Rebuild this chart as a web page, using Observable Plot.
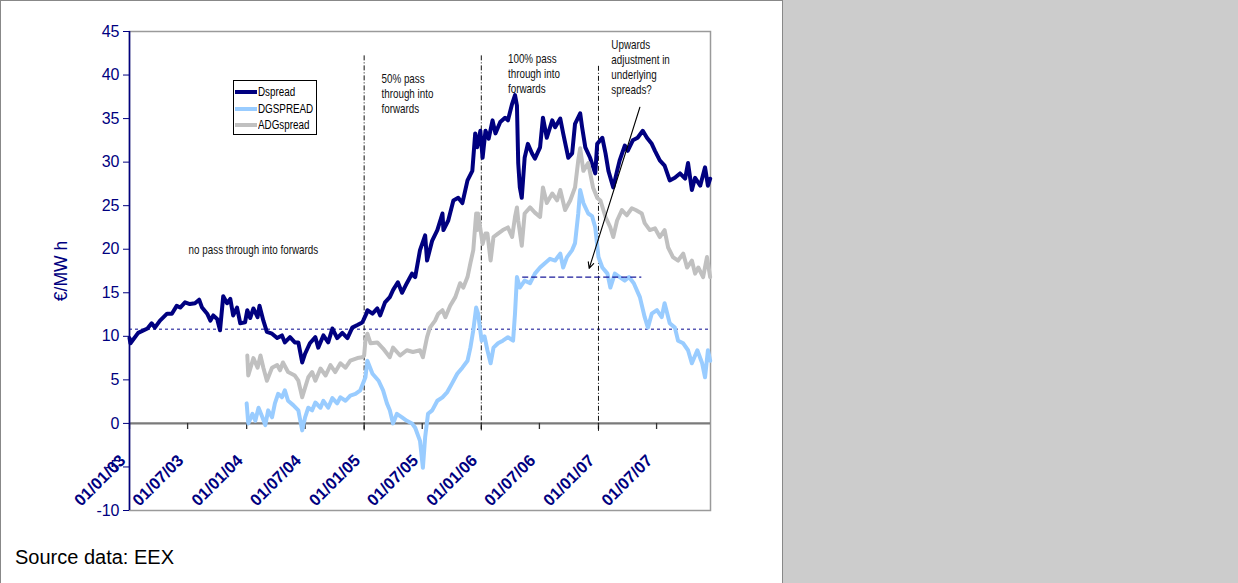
<!DOCTYPE html>
<html><head><meta charset="utf-8">
<script src="https://cdn.jsdelivr.net/npm/d3@7"></script>
<script src="https://cdn.jsdelivr.net/npm/@observablehq/plot@0.6"></script>
<style>
html,body{margin:0;padding:0;}
body{width:1238px;height:583px;background:#cccccc;position:relative;overflow:hidden;font-family:"Liberation Sans",Arial,sans-serif;}
#page{position:absolute;left:0;top:0;width:783px;height:590px;background:#fff;border-left:1px solid #888;border-top:1px solid #888;border-right:1px solid #888;box-sizing:border-box;}
#chart{position:absolute;left:0;top:0;}
#source{position:absolute;left:15px;top:546px;font-size:20px;color:#000;white-space:nowrap;}
#legend{position:absolute;left:233px;top:80px;width:84px;height:55px;border:1px solid #000;background:#fff;box-sizing:border-box;font-family:"Liberation Sans",Arial,sans-serif;font-size:12px;color:#000;}
#legend .row{position:absolute;left:1px;height:16px;line-height:16px;white-space:nowrap;}
#legend .sw{position:absolute;left:0;top:6px;width:22px;height:4px;}
#legend .lbl{position:absolute;left:23px;top:0;transform:scaleX(0.82);transform-origin:0 50%;}
</style></head>
<body>
<div id="page"></div>
<div id="chart"></div>
<div id="legend"></div>
<div id="source">Source data: EEX</div>
<script>
// ---- data ----
const seriesNames = ["Dspread", "DGSPREAD", "ADGspread"];
const seriesColors = ["#000080", "#99ccff", "#c0c0c0"];

const dspread = [
["2003-01-01",9.8],["2003-01-04",9.2],["2003-01-28",10.4],["2003-02-26",10.9],["2003-03-11",11.5],["2003-03-21",11.0],
["2003-04-06",11.8],["2003-04-28",12.6],["2003-05-13",12.6],["2003-05-28",13.5],["2003-06-08",13.3],["2003-06-23",13.9],
["2003-07-08",13.7],["2003-07-24",13.8],["2003-08-06",14.2],["2003-08-15",13.3],["2003-08-31",12.6],["2003-09-10",11.8],
["2003-09-19",12.4],["2003-10-01",12.0],["2003-10-10",10.7],["2003-10-20",14.6],["2003-11-01",13.8],["2003-11-11",14.3],
["2003-11-20",12.4],["2003-12-02",13.3],["2003-12-12",11.5],["2003-12-27",11.6],["2004-01-03",13.0],["2004-01-12",12.1],
["2004-01-22",13.2],["2004-02-04",12.2],["2004-02-10",13.5],["2004-02-22",11.8],["2004-03-04",10.5],["2004-03-20",10.3],
["2004-04-05",9.8],["2004-04-20",10.1],["2004-04-29",9.3],["2004-05-15",9.9],["2004-05-30",9.3],["2004-06-10",9.3],
["2004-06-22",7.0],["2004-07-01",8.0],["2004-07-16",9.2],["2004-08-02",9.9],["2004-08-11",8.7],["2004-08-27",10.1],
["2004-09-11",9.3],["2004-09-24",10.9],["2004-10-09",9.8],["2004-10-25",10.4],["2004-11-10",9.8],["2004-11-25",11.0],
["2004-12-11",11.3],["2004-12-26",11.6],["2004-12-29",11.8],["2005-01-08",12.6],["2005-01-11",13.0],["2005-01-27",12.6],
["2005-02-11",13.2],["2005-02-20",12.4],["2005-03-07",13.9],["2005-03-22",14.5],["2005-04-01",15.3],["2005-04-16",16.2],
["2005-04-29",15.0],["2005-05-14",16.1],["2005-05-30",17.2],["2005-06-09",16.8],["2005-06-24",19.9],["2005-07-10",21.6],
["2005-07-16",18.7],["2005-08-01",21.0],["2005-08-17",22.2],["2005-09-02",24.1],["2005-09-05",22.2],["2005-09-20",23.3],
["2005-10-06",25.6],["2005-10-21",25.9],["2005-11-03",25.3],["2005-11-19",27.9],["2005-12-04",29.0],["2005-12-13",33.3],
["2005-12-19",31.7],["2005-12-29",33.6],["2006-01-05",30.5],["2006-01-14",33.6],["2006-01-24",32.7],["2006-02-05",34.8],
["2006-02-14",33.3],["2006-03-01",34.6],["2006-03-16",35.1],["2006-03-25",34.8],["2006-04-07",36.7],["2006-04-16",37.7],
["2006-04-22",36.5],["2006-04-26",29.9],["2006-05-01",27.1],["2006-05-07",25.9],["2006-05-16",30.5],["2006-05-26",32.1],
["2006-06-08",31.0],["2006-06-17",30.4],["2006-07-03",31.7],["2006-07-12",35.1],["2006-07-24",32.8],["2006-08-10",34.8],
["2006-08-19",34.0],["2006-09-04",35.0],["2006-09-13",33.3],["2006-09-29",30.5],["2006-10-11",31.0],["2006-10-20",34.4],
["2006-11-05",35.6],["2006-11-11",34.0],["2006-11-21",31.7],["2006-12-06",30.5],["2006-12-22",28.7],["2006-12-28",32.1],
["2007-01-13",32.8],["2007-01-23",31.0],["2007-02-01",29.0],["2007-02-16",27.1],["2007-02-28",29.0],["2007-03-08",30.2],
["2007-03-24",31.9],["2007-04-02",31.3],["2007-04-18",32.5],["2007-05-03",32.8],["2007-05-19",33.6],["2007-06-01",32.8],
["2007-06-16",32.1],["2007-06-26",31.3],["2007-07-11",30.2],["2007-07-26",29.6],["2007-08-11",27.9],["2007-08-27",28.2],
["2007-09-12",28.7],["2007-09-28",28.1],["2007-10-07",29.9],["2007-10-19",26.8],["2007-10-29",28.2],["2007-11-14",27.3],
["2007-11-29",29.4],["2007-12-08",27.3],["2007-12-15",28.1]
];

const dgspread = [
["2004-01-01",2.3],["2004-01-06",0.0],["2004-01-19",1.1],["2004-01-28",0.3],["2004-02-07",1.8],["2004-02-19",0.7],
["2004-02-28",-0.2],["2004-03-08",1.5],["2004-03-20",0.7],["2004-03-29",2.3],["2004-04-08",3.4],["2004-04-20",3.0],
["2004-04-29",3.8],["2004-05-09",2.6],["2004-05-25",2.1],["2004-06-10",1.5],["2004-06-22",-0.8],["2004-07-01",0.7],
["2004-07-11",1.8],["2004-07-23",1.5],["2004-08-02",2.4],["2004-08-18",1.8],["2004-08-27",2.6],["2004-09-11",1.8],
["2004-09-24",2.9],["2004-10-09",2.3],["2004-10-19",3.0],["2004-11-04",2.6],["2004-11-19",3.2],["2004-12-05",3.4],
["2004-12-20",3.8],["2005-01-05",5.3],["2005-01-11",7.2],["2005-01-27",5.7],["2005-02-15",4.9],["2005-03-01",3.8],
["2005-03-13",2.3],["2005-03-22",1.5],["2005-04-01",0.0],["2005-04-13",1.1],["2005-04-29",0.7],["2005-05-14",0.3],
["2005-05-30",0.0],["2005-06-09",-0.5],["2005-06-24",-2.0],["2005-07-03",-5.1],["2005-07-10",-1.6],["2005-07-19",1.1],
["2005-08-01",1.5],["2005-08-17",2.6],["2005-09-02",3.0],["2005-09-17",3.6],["2005-10-02",4.6],["2005-10-18",5.7],
["2005-11-03",6.4],["2005-11-19",7.2],["2005-11-28",8.7],["2005-12-07",10.7],["2005-12-16",13.3],["2005-12-22",12.6],
["2006-01-02",9.5],["2006-01-11",10.0],["2006-01-20",8.4],["2006-01-30",6.9],["2006-02-08",8.7],["2006-02-22",9.2],
["2006-03-09",9.5],["2006-03-25",9.9],["2006-04-10",9.5],["2006-04-16",12.6],["2006-04-22",16.8],["2006-05-01",15.6],
["2006-05-16",16.4],["2006-06-02",16.1],["2006-06-17",17.2],["2006-07-03",17.9],["2006-07-18",18.4],["2006-08-03",18.9],
["2006-08-19",18.7],["2006-09-04",19.5],["2006-09-13",17.9],["2006-09-25",19.1],["2006-10-11",19.9],["2006-10-20",20.7],
["2006-10-30",24.1],["2006-11-05",26.8],["2006-11-15",25.3],["2006-11-30",24.1],["2006-12-12",23.8],["2006-12-22",22.5],
["2007-01-01",19.1],["2007-01-13",17.9],["2007-01-29",17.2],["2007-02-07",15.6],["2007-02-21",17.2],["2007-03-08",16.8],
["2007-03-24",16.4],["2007-04-06",16.8],["2007-04-21",16.1],["2007-05-10",14.5],["2007-05-25",12.2],["2007-06-04",11.0],
["2007-06-16",12.6],["2007-07-02",13.0],["2007-07-17",12.2],["2007-07-26",13.8],["2007-08-11",11.5],["2007-08-27",11.0],
["2007-09-06",9.5],["2007-09-22",9.2],["2007-10-07",8.4],["2007-10-19",6.9],["2007-11-05",8.4],["2007-11-20",6.9],
["2007-11-29",5.3],["2007-12-08",8.4],["2007-12-15",7.2]
];

const adgspread = [
["2004-01-03",7.8],["2004-01-06",5.5],["2004-01-22",7.5],["2004-02-04",6.4],["2004-02-13",7.8],["2004-02-22",6.4],
["2004-03-04",4.9],["2004-03-20",6.4],["2004-04-05",6.7],["2004-04-14",6.1],["2004-04-23",7.0],["2004-05-09",5.9],
["2004-05-30",5.5],["2004-06-10",4.9],["2004-06-22",3.0],["2004-07-01",4.1],["2004-07-11",5.3],["2004-07-23",5.9],
["2004-08-02",4.9],["2004-08-18",6.3],["2004-09-03",5.5],["2004-09-18",6.7],["2004-10-03",5.9],["2004-10-19",6.9],
["2004-11-04",6.4],["2004-11-19",7.2],["2004-12-11",7.5],["2004-12-26",7.6],["2005-01-01",7.8],["2005-01-05",9.5],
["2005-01-11",10.3],["2005-01-21",9.2],["2005-02-11",9.3],["2005-03-01",8.6],["2005-03-22",7.6],["2005-04-01",8.7],
["2005-04-23",7.8],["2005-05-14",8.4],["2005-06-02",8.2],["2005-06-24",8.4],["2005-07-03",7.6],["2005-07-16",9.9],
["2005-07-25",11.0],["2005-08-10",11.8],["2005-08-20",12.6],["2005-09-02",13.0],["2005-09-11",12.2],["2005-09-26",13.5],
["2005-10-12",14.5],["2005-10-27",16.1],["2005-11-06",15.6],["2005-11-19",16.8],["2005-11-28",18.4],["2005-12-07",19.9],
["2005-12-16",24.1],["2005-12-19",22.2],["2005-12-22",24.1],["2006-01-05",20.6],["2006-01-14",21.8],["2006-01-20",21.8],
["2006-01-30",18.7],["2006-02-08",21.4],["2006-02-22",21.8],["2006-03-09",22.2],["2006-03-25",22.5],["2006-04-07",21.4],
["2006-04-16",23.7],["2006-04-22",24.8],["2006-04-26",23.3],["2006-05-07",20.4],["2006-05-16",24.1],["2006-06-02",24.8],
["2006-06-17",24.2],["2006-07-03",23.7],["2006-07-12",27.1],["2006-07-24",25.3],["2006-08-10",26.4],["2006-08-25",25.6],
["2006-09-04",26.8],["2006-09-19",24.5],["2006-10-05",25.6],["2006-10-20",27.1],["2006-10-30",30.2],["2006-11-05",31.6],
["2006-11-15",29.0],["2006-11-30",29.9],["2006-12-15",27.1],["2006-12-28",25.9],["2007-01-07",25.6],["2007-01-23",23.7],
["2007-02-07",22.5],["2007-02-16",21.4],["2007-02-28",23.3],["2007-03-15",24.5],["2007-03-30",23.9],["2007-04-15",24.7],
["2007-04-27",24.5],["2007-05-16",24.1],["2007-05-25",23.0],["2007-06-10",22.2],["2007-06-26",22.4],["2007-07-11",21.4],
["2007-07-26",22.2],["2007-08-06",20.2],["2007-08-21",19.1],["2007-09-06",18.7],["2007-09-22",19.5],["2007-10-04",17.9],
["2007-10-19",18.7],["2007-10-29",17.2],["2007-11-08",17.9],["2007-11-23",16.8],["2007-12-05",19.1],["2007-12-15",16.8]
];

const xDomain = ["2003-01-01", "2007-12-16"];
const yTicks = [-10, -5, 0, 5, 10, 15, 20, 25, 30, 35, 40, 45];
const xTickDates = ["2003-01-01","2003-07-01","2004-01-01","2004-07-01","2005-01-01","2005-07-01","2006-01-01","2006-07-01","2007-01-01","2007-07-01"];
const xTickLabels = ["01/01/03","01/07/03","01/01/04","01/07/04","01/01/05","01/07/05","01/01/06","01/07/06","01/01/07","01/07/07"];
const yLabel = "€/MW h";

// reference levels
const longLevel = 10.8;
const shortLevel = {from: "2006-05-10", to: "2007-05-16", value: 16.8};
const regimeDates = ["2005-01-01", "2006-01-01", "2007-01-01"];
const regimeTops = [42.2, 42.2, 41.0];
const regimeBottom = -1;

// annotations
const noteDates = ["2004-01-22", "2005-02-24", "2006-03-25", "2007-02-10"];
const noteValues = [20.0, 40.3, 42.6, 44.2];
const noteTexts = ["no pass through into forwards", "50% pass\nthrough into\nforwards", "100% pass\nthrough into\nforwards", "Upwards\nadjustment in\nunderlying\nspreads?"];
const noteAnchors = ["middle", "start", "start", "start"];
const noteLineAnchors = ["middle", "top", "top", "top"];
const arrowFrom = {date: "2007-05-10", value: 36.3};
const arrowTo = {date: "2006-12-03", value: 17.8};

// ---- build ----
const P = s => new Date(s + "T00:00:00Z");
const NAVY = "#000080";
const toRows = (arr, name) => arr.map(([d, v]) => ({date: P(d), value: v, series: name}));
const lines = [toRows(dspread, seriesNames[0]), toRows(dgspread, seriesNames[1]), toRows(adgspread, seriesNames[2])];
const notes = noteTexts.map((t, i) => ({date: P(noteDates[i]), value: noteValues[i], text: t, anchor: noteAnchors[i], la: noteLineAnchors[i]}));
const xTicks = xTickDates.map((d, i) => ({date: P(d), label: xTickLabels[i]}));
const regimes = regimeDates.map((d, i) => ({date: P(d), top: regimeTops[i]}));

const chart = Plot.plot({
  width: 781, height: 520,
  marginLeft: 129, marginRight: 71, marginTop: 31, marginBottom: 10,
  style: {fontFamily: '"Liberation Sans",Arial,sans-serif', background: "transparent", overflow: "visible"},
  x: {type: "utc", domain: xDomain.map(P), axis: null},
  y: {domain: [yTicks[0], yTicks[yTicks.length - 1]], axis: null},
  marks: [
    Plot.frame({stroke: "#9a9a9a", strokeWidth: 1.5}),
    Plot.ruleY([longLevel], {stroke: "#5a5ab4", strokeWidth: 1.5, strokeDasharray: "3,3"}),
    Plot.ruleY([0], {stroke: "#7a7a7a", strokeWidth: 2.2}),
    Plot.ruleX(xTicks, {x: "date", y1: 0, y2: -0.7, stroke: "#333", strokeWidth: 1.3}),
    Plot.ruleX(regimes, {x: "date", y1: "top", y2: regimeBottom, stroke: "#111", strokeWidth: 1, strokeDasharray: "5,2,1,2"}),
    ...lines.map((rows, i) => Plot.line(rows, {x: "date", y: "value", stroke: seriesColors[i], strokeWidth: 4, strokeLinejoin: "round"})),
    Plot.ruleY([shortLevel], {y: "value", x1: d => P(d.from), x2: d => P(d.to), stroke: "#1a1a9a", strokeWidth: 1.3, strokeDasharray: "6,3"}),
    Plot.arrow([{}], {x1: P(arrowFrom.date), y1: arrowFrom.value, x2: P(arrowTo.date), y2: arrowTo.value, stroke: "#000", strokeWidth: 1.1, headLength: 9, headAngle: 50}),
    Plot.ruleX([P(xDomain[0])], {stroke: NAVY, strokeWidth: 1.6}),
    Plot.axisY({ticks: yTicks, tickSize: 6, tickPadding: 4, fontSize: 16, color: NAVY, stroke: NAVY, fill: NAVY, tickFormat: d => String(d), label: null}),
    Plot.text([yLabel], {frameAnchor: "left", text: d => d, rotate: -90, dx: -68, textAnchor: "middle", fontSize: 17.5, fill: NAVY}),
    Plot.text(xTicks, {x: "date", text: "label", frameAnchor: "bottom", dy: -49, dx: -3, rotate: -45, textAnchor: "end", fontSize: 16.5, fontWeight: "bold", fill: NAVY}),
    ...notes.map(n => Plot.text([n], {x: "date", y: "value", text: "text", textAnchor: n.anchor, lineAnchor: n.la, lineHeight: 1.25, fontSize: 12, fill: "#111"}))
  ]
});
document.getElementById("chart").appendChild(chart);

// condense the annotation text (narrow face in the original)
const flatNotes = new Set(noteTexts.map(t => t.replace(/\n/g, "")));
chart.querySelectorAll("text").forEach(t => {
  if (!flatNotes.has(t.textContent)) return;
  const target = t.hasAttribute("transform") ? t : t.parentNode;
  const tr = target.getAttribute("transform") || "";
  target.setAttribute("transform", tr + " scale(0.82,1)");
});

// legend (HTML box drawn over the plot area)
const leg = document.getElementById("legend");
seriesNames.forEach((name, i) => {
  const row = document.createElement("div");
  row.className = "row";
  row.style.top = (3 + i * 16.5) + "px";
  const sw = document.createElement("span");
  sw.className = "sw";
  sw.style.background = seriesColors[i];
  const lbl = document.createElement("span");
  lbl.className = "lbl";
  lbl.textContent = name;
  row.appendChild(sw);
  row.appendChild(lbl);
  leg.appendChild(row);
});
</script>
</body></html>
